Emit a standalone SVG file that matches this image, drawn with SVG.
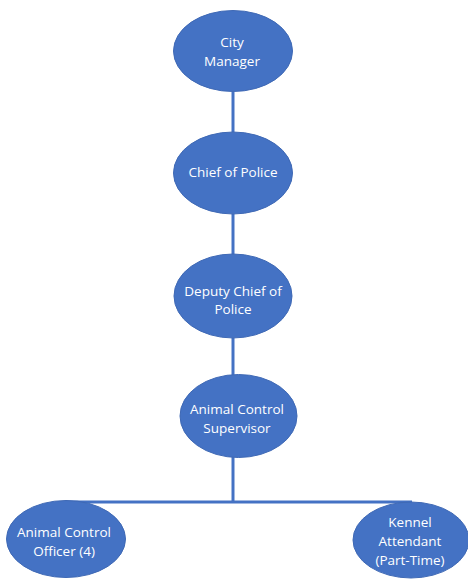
<svg xmlns="http://www.w3.org/2000/svg" width="468" height="580" viewBox="0 0 468 580">
<style>
.node{fill:#4472C4;stroke:#3F69B5;stroke-width:1}
.lbl{fill:#ffffff;font-family:"Open Sans","Noto Sans","Liberation Sans",sans-serif;font-size:13.5px;text-anchor:middle}
.conn{stroke:#4472C4;stroke-width:3;fill:none}
</style>
<rect width="468" height="580" fill="#ffffff"/>
<g id="connectors">
<line class="conn" x1="233" y1="92" x2="233" y2="132"/>
<line class="conn" x1="233" y1="214" x2="233" y2="254"/>
<line class="conn" x1="233" y1="338" x2="233" y2="375"/>
<line class="conn" x1="233" y1="457" x2="233" y2="502"/>
<line class="conn" x1="66" y1="502" x2="412" y2="502"/>
</g>
<g id="city-manager">
<ellipse class="node" cx="233" cy="51" rx="59.5" ry="40.5"/>
<text class="lbl" x="232" y="47">City</text>
<text class="lbl" x="232" y="66">Manager</text>
</g>
<g id="chief-of-police">
<ellipse class="node" cx="233" cy="173" rx="59.5" ry="41"/>
<text class="lbl" x="233" y="177">Chief of Police</text>
</g>
<g id="deputy-chief">
<ellipse class="node" cx="233" cy="296" rx="59" ry="42"/>
<text class="lbl" x="233" y="296">Deputy Chief of</text>
<text class="lbl" x="233" y="314">Police</text>
</g>
<g id="animal-control-supervisor">
<ellipse class="node" cx="238.5" cy="416" rx="58.5" ry="41.5"/>
<text class="lbl" x="237" y="414">Animal Control</text>
<text class="lbl" x="237" y="433">Supervisor</text>
</g>
<g id="animal-control-officer">
<ellipse class="node" cx="66" cy="539" rx="59.5" ry="38.5"/>
<text class="lbl" x="64" y="537">Animal Control</text>
<text class="lbl" x="64" y="556">Officer (4)</text>
</g>
<g id="kennel-attendant">
<ellipse class="node" cx="411" cy="540" rx="58" ry="38"/>
<text class="lbl" x="410" y="527">Kennel</text>
<text class="lbl" x="410" y="546">Attendant</text>
<text class="lbl" x="410" y="565">(Part-Time)</text>
</g>
</svg>
